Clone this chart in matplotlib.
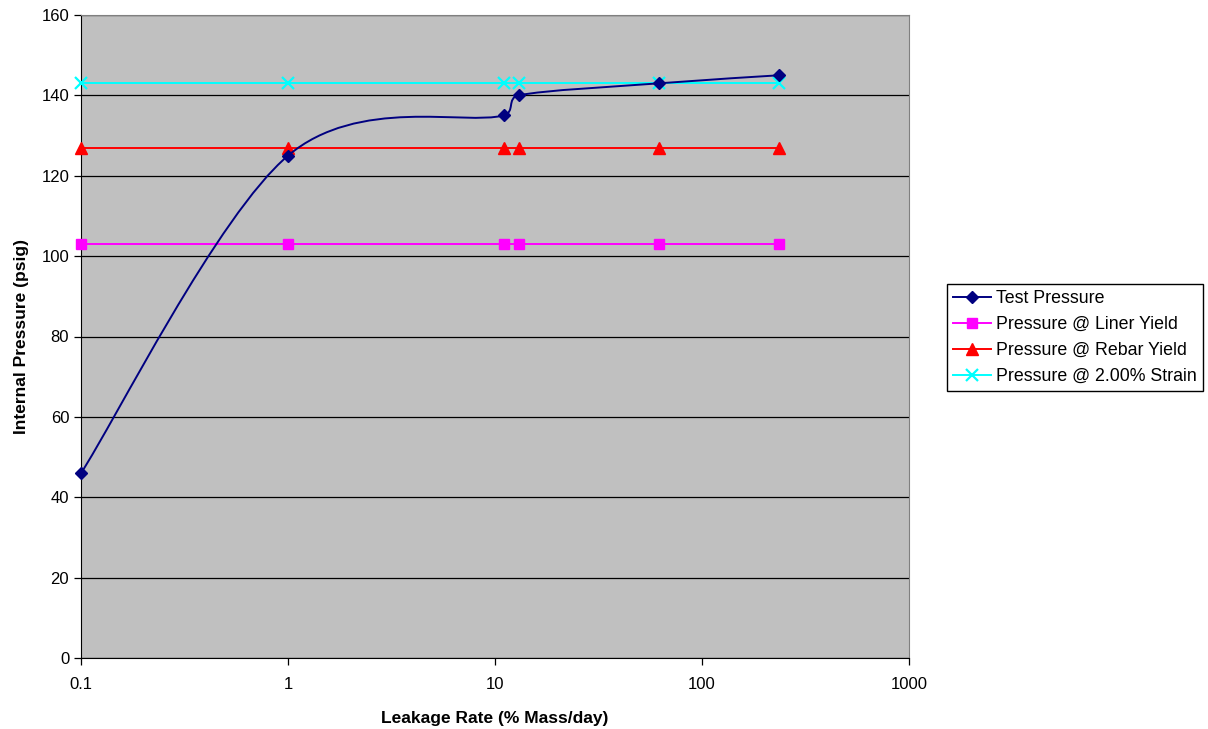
import numpy as np
import matplotlib
matplotlib.use("Agg")
import matplotlib.pyplot as plt
from matplotlib.path import Path
from matplotlib.patches import PathPatch
from matplotlib.lines import Line2D
from matplotlib.ticker import FixedLocator, NullLocator, FixedFormatter

plt.rcParams['font.family'] = ['Liberation Sans', 'DejaVu Sans']

# Data
leak_rate = [0.1, 1, 11, 13, 62, 235]
test_pressure = [46, 125, 135, 140, 143, 145]
liner_yield = [103, 103, 103, 103, 103, 103]
rebar_yield = [127, 127, 127, 127, 127, 127]
strain_2pct = [143, 143, 143, 143, 143, 143]

x_ticks = [0.1, 1, 10, 100, 1000]
x_tick_labels = ["0.1", "1", "10", "100", "1000"]
y_ticks = [0, 20, 40, 60, 80, 100, 120, 140, 160]

fig = plt.figure(figsize=(12.08, 7.29), dpi=100)
fig.patch.set_facecolor('white')
ax = fig.add_axes([81/1208, 71/729, 828/1208, 643/729])
ax.set_facecolor('#C0C0C0')
ax.set_xscale('log')
ax.set_xlim(0.1, 1000)
ax.set_ylim(0, 160)

ax.xaxis.set_major_locator(FixedLocator(x_ticks))
ax.xaxis.set_major_formatter(FixedFormatter(x_tick_labels))
ax.xaxis.set_minor_locator(NullLocator())
ax.set_yticks(y_ticks)
ax.yaxis.grid(True, color='black', linewidth=0.9)
ax.set_axisbelow(True)
for s in ['top', 'right']:
    ax.spines[s].set_color('#808080')
for s in ['left', 'bottom']:
    ax.spines[s].set_color('black')
ax.tick_params(axis='both', direction='out', length=5, width=0.9, labelsize=12, colors='black')
ax.tick_params(axis='x', pad=9)

ax.set_xlabel('Leakage Rate (% Mass/day)', fontsize=12.5, fontweight='bold', labelpad=13)
ax.set_ylabel('Internal Pressure (psig)', fontsize=12.5, fontweight='bold', labelpad=9)

lw = 1.4
# horizontal reference series
ax.plot(leak_rate, liner_yield, color='#FF00FF', lw=lw, marker='s', ms=7.5, mec='#FF00FF', mfc='#FF00FF', zorder=3, clip_on=False)
ax.plot(leak_rate, rebar_yield, color='#FF0000', lw=lw, marker='^', ms=9, mec='#FF0000', mfc='#FF0000', zorder=3, clip_on=False)
ax.plot(leak_rate, strain_2pct, color='#00FFFF', lw=lw, marker='x', ms=9, mew=1.6, mec='#00FFFF', zorder=3, clip_on=False)

# Smoothed test pressure curve (Excel-style Bezier in display space)
fig.canvas.draw()
pts = ax.transData.transform(np.column_stack([leak_rate, test_pressure]))
n = len(pts)


def clamp(v, limit):
    L = np.hypot(*v)
    return v * (limit / L) if L > limit and L > 0 else v


verts = [pts[0]]
codes = [Path.MOVETO]
for i in range(n - 1):
    p0 = pts[i - 1] if i > 0 else pts[i]
    p1 = pts[i]
    p2 = pts[i + 1]
    p3 = pts[i + 2] if i + 2 < n else pts[i + 1]
    d12 = np.hypot(*(p2 - p1))
    c1 = p1 + clamp((p2 - p0) / 6.0, d12 / 2.0)
    c2 = p2 - clamp((p3 - p1) / 6.0, d12 / 2.0)
    verts += [c1, c2, p2]
    codes += [Path.CURVE4] * 3
verts = ax.transData.inverted().transform(np.array(verts))
patch = PathPatch(Path(verts, codes), facecolor='none', edgecolor='#000080', lw=lw, zorder=4)
ax.add_patch(patch)
ax.plot(leak_rate, test_pressure, ls='none', marker='D', ms=6.5, mec='#000080', mfc='#000080', zorder=5, clip_on=False)

handles = [
    Line2D([], [], color='#000080', lw=lw, marker='D', ms=6.5),
    Line2D([], [], color='#FF00FF', lw=lw, marker='s', ms=7.5),
    Line2D([], [], color='#FF0000', lw=lw, marker='^', ms=9),
    Line2D([], [], color='#00FFFF', lw=lw, marker='x', ms=9, mew=1.6),
]
labels = ['Test Pressure', 'Pressure @ Liner Yield', 'Pressure @ Rebar Yield', 'Pressure @ 2.00% Strain']
leg = fig.legend(handles, labels, loc='upper left', bbox_to_anchor=(947/1208, 1 - 284/729),
                 fontsize=12.75, frameon=True, fancybox=False, edgecolor='black', framealpha=1,
                 borderpad=0.35, handlelength=2.15, handletextpad=0.28, labelspacing=0.5, borderaxespad=0)
leg.get_frame().set_linewidth(1.0)

fig.savefig('out.png', dpi=100)
